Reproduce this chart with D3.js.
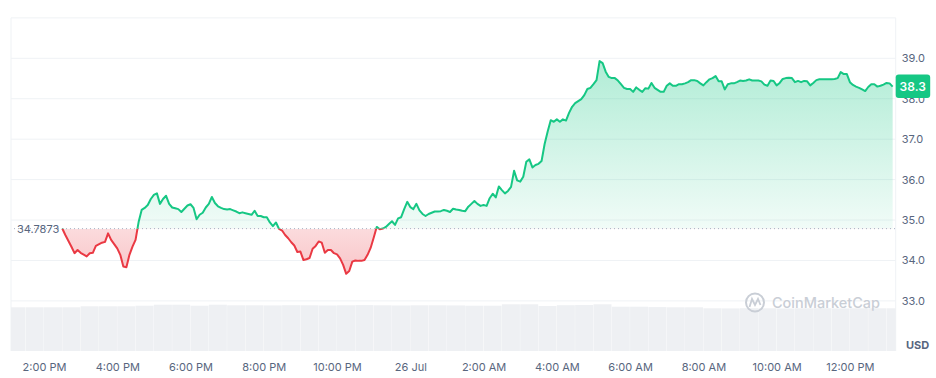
<!DOCTYPE html>
<html>
<head>
<meta charset="utf-8">
<script src="https://d3js.org/d3.v7.min.js"></script>
<style>
  body { margin: 0; background: #fff; font-family: Inter, "Noto Sans", sans-serif; }
</style>
</head>
<body>
<div id="chart"></div>
<script>

// price series: minutes after 2:00 PM (25 Jul) and price in USD
var minutes = [30,35,45,50,55,60,70,75,80,85,95,100,105,110,120,125,130,135,140,145,
  150,155,160,165,170,175,180,185,190,195,200,205,210,215,220,225,235,240,245,250,
  255,260,265,270,275,280,285,290,295,300,305,310,315,320,325,330,335,340,345,350,
  355,360,365,370,375,380,385,390,395,400,405,410,415,420,425,430,435,440,445,450,
  455,460,465,470,475,480,485,490,495,500,505,510,515,520,525,530,535,540,545,550,
  555,560,565,570,575,580,585,590,595,600,605,610,615,620,625,630,635,640,645,650,
  655,660,665,670,675,680,685,690,695,700,705,710,715,720,725,730,735,740,745,750,
  755,760,765,770,775,780,785,790,795,800,805,810,815,820,825,830,835,840,845,850,
  855,860,865,870,875,880,885,890,895,900,905,910,915,920,925,930,935,940,945,950,
  955,960,965,970,975,980,985,990,995,1000,1005,1010,1015,1020,1025,1030,1035,1040,1045,1050,
  1055,1060,1065,1070,1075,1080,1085,1090,1095,1100,1105,1110,1115,1120,1125,1130,1135,1140,1145,1150,
  1155,1160,1165,1170,1175,1180,1185,1190,1195,1200,1205,1210,1215,1220,1225,1230,1235,1240,1245,1250,
  1255,1260,1265,1270,1275,1280,1285,1290,1295,1300,1305,1310,1315,1320,1325,1330,1335,1340,1345,1350,
  1355,1360,1365,1370,1375,1380,1385,1390];

var prices = [34.79,34.63,34.34,34.18,34.26,34.19,34.10,34.18,34.19,34.36,34.44,34.46,34.67,34.51,34.30,34.14,33.85,33.83,34.14,34.34,
  34.51,34.95,35.25,35.30,35.37,35.52,35.62,35.66,35.40,35.52,35.60,35.40,35.31,35.29,35.27,35.20,35.36,35.39,35.30,35.02,
  35.13,35.18,35.31,35.40,35.57,35.42,35.34,35.30,35.27,35.26,35.27,35.24,35.21,35.17,35.19,35.17,35.15,35.13,35.23,35.10,
  35.10,35.07,35.07,34.94,34.85,34.94,34.78,34.74,34.63,34.55,34.45,34.37,34.21,34.22,34.01,34.03,34.06,34.29,34.36,34.47,
  34.44,34.19,34.26,34.26,34.18,34.15,34.05,33.89,33.67,33.74,33.97,34.00,33.99,33.99,34.01,34.14,34.31,34.56,34.83,34.77,
  34.79,34.83,34.90,34.97,34.88,35.04,35.07,35.27,35.45,35.32,35.27,35.40,35.24,35.15,35.10,35.15,35.18,35.21,35.21,35.22,
  35.25,35.23,35.20,35.28,35.26,35.25,35.23,35.22,35.33,35.40,35.47,35.40,35.35,35.37,35.35,35.54,35.65,35.56,35.83,35.74,
  35.66,35.72,35.82,36.22,35.98,35.95,36.07,36.44,36.50,36.30,36.36,36.39,36.46,36.88,37.19,37.47,37.43,37.49,37.43,37.49,
  37.46,37.65,37.80,37.89,37.94,37.99,38.09,38.24,38.27,38.36,38.46,38.93,38.88,38.67,38.54,38.51,38.51,38.45,38.36,38.27,
  38.24,38.24,38.17,38.28,38.22,38.17,38.26,38.25,38.39,38.27,38.22,38.17,38.17,38.32,38.38,38.32,38.32,38.36,38.36,38.38,
  38.41,38.46,38.46,38.44,38.38,38.33,38.41,38.48,38.51,38.56,38.43,38.43,38.23,38.36,38.38,38.38,38.41,38.45,38.44,38.45,
  38.48,38.45,38.45,38.45,38.43,38.35,38.32,38.45,38.44,38.33,38.39,38.49,38.51,38.52,38.51,38.41,38.44,38.41,38.44,38.43,
  38.33,38.39,38.46,38.48,38.48,38.48,38.48,38.48,38.49,38.51,38.66,38.61,38.61,38.41,38.34,38.30,38.27,38.23,38.19,38.29,
  38.36,38.36,38.30,38.32,38.35,38.39,38.38,38.30];

// volume, one bar per 30 minutes starting 1:00 PM
var volumeStart = -60;
var volumes = [87.4,87.4,87.4,87.4,89.4,89.4,89.4,90.6,92.6,92.6,90.6,92.6,91.4,91.4,91.2,91.6,91.4,91.0,91.4,91.8,
  91.4,91.0,91.4,91.4,91.2,90.6,90.6,93.4,93.4,90.0,91.6,92.0,93.4,88.6,88.6,87.8,87.4,87.4,85.4,85.2,
  85.6,85.4,85.0,85.4,85.6,85.2,85.4,85.4,85.4];

var baseline = 34.7873;
var lastPrice = "38.3";
var yTicks = [33, 34, 35, 36, 37, 38, 39, 40];
var xTickMinutes = [0, 120, 240, 360, 480, 600, 720, 840, 960, 1080, 1200, 1320];
var xTickLabels = ["2:00 PM","4:00 PM","6:00 PM","8:00 PM","10:00 PM","26 Jul","2:00 AM","4:00 AM","6:00 AM","8:00 AM","10:00 AM","12:00 PM"];

var W = 936, H = 378;
var left = 11, right = 895.7, bottom = 351;
var green = "#16c784", red = "#ea3943";

var t0 = new Date(2023, 6, 25, 14, 0);
function toTime(m) { return new Date(t0.getTime() + m * 60000); }

var data = minutes.map(function(m, i) { return {t: toTime(m), v: prices[i]}; });

var svg = d3.select("#chart").append("svg")
  .attr("width", W).attr("height", H);

var x = d3.scaleTime()
  .domain([toTime(-54), toTime(1395)])
  .range([left, right]);

var y = d3.scaleLinear()
  .domain([33, 39])
  .range([300.9, 58.3]);

var yv = d3.scaleLinear().domain([0, 100]).range([bottom, 301]);

var defs = svg.append("defs");
var yb = y(baseline);

var gG = defs.append("linearGradient").attr("id", "gGreen")
  .attr("gradientUnits", "userSpaceOnUse").attr("x1", 0).attr("x2", 0)
  .attr("y1", y(39)).attr("y2", yb);
gG.append("stop").attr("offset", 0).attr("stop-color", green).attr("stop-opacity", 0.34);
gG.append("stop").attr("offset", 1).attr("stop-color", green).attr("stop-opacity", 0.06);

var gR = defs.append("linearGradient").attr("id", "gRed")
  .attr("gradientUnits", "userSpaceOnUse").attr("x1", 0).attr("x2", 0)
  .attr("y1", yb).attr("y2", y(33.6));
gR.append("stop").attr("offset", 0).attr("stop-color", red).attr("stop-opacity", 0.18);
gR.append("stop").attr("offset", 1).attr("stop-color", red).attr("stop-opacity", 0.3);

defs.append("clipPath").attr("id", "above").append("rect")
  .attr("x", 0).attr("y", 0).attr("width", W).attr("height", yb);
defs.append("clipPath").attr("id", "below").append("rect")
  .attr("x", 0).attr("y", yb).attr("width", W).attr("height", H - yb);
defs.append("clipPath").attr("id", "plot").append("rect")
  .attr("x", left).attr("y", 0).attr("width", right - left).attr("height", H);

// grid lines
svg.append("g").selectAll("line")
  .data(yTicks).enter().append("line")
  .attr("x1", left).attr("x2", right)
  .attr("y1", function(d) { return y(d); }).attr("y2", function(d) { return y(d); })
  .attr("stroke", "#eff2f5").attr("stroke-width", 1);

// side borders
svg.append("line").attr("x1", left).attr("x2", left).attr("y1", y(40)).attr("y2", bottom)
  .attr("stroke", "#eff2f5");
svg.append("line").attr("x1", right).attr("x2", right).attr("y1", y(40)).attr("y2", bottom)
  .attr("stroke", "#eff2f5");

// volume bars
svg.append("g").attr("clip-path", "url(#plot)").selectAll("rect")
  .data(volumes).enter().append("rect")
  .attr("x", function(d, i) { return x(toTime(volumeStart + i * 30)); })
  .attr("width", function(d, i) { return x(toTime(volumeStart + (i + 1) * 30)) - x(toTime(volumeStart + i * 30)) - 0.3; })
  .attr("y", function(d) { return yv(d); })
  .attr("height", function(d) { return bottom - yv(d); })
  .attr("fill", "#eef0f3");

// watermark
var wm = svg.append("g").attr("fill", "none").attr("stroke", "#c9ced6");
wm.append("circle").attr("cx", 755).attr("cy", 302.5).attr("r", 9).attr("stroke-width", 2);
wm.append("path").attr("d", "M749.5,307 L752,299 L755,305 L758,299 L760.5,305").attr("stroke-width", 1.8);
svg.append("text").attr("x", 772).attr("y", 308)
  .attr("font-size", 14.5).attr("font-weight", 500).attr("fill", "#c9ced6")
  .attr("textLength", 108).attr("lengthAdjust", "spacingAndGlyphs")
  .text("CoinMarketCap");

// areas
var area = d3.area()
  .x(function(d) { return x(d.t); })
  .y0(yb)
  .y1(function(d) { return y(d.v); });

var line = d3.line()
  .x(function(d) { return x(d.t); })
  .y(function(d) { return y(d.v); });

svg.append("path").datum(data).attr("d", area)
  .attr("fill", "url(#gGreen)").attr("clip-path", "url(#above)");
svg.append("path").datum(data).attr("d", area)
  .attr("fill", "url(#gRed)").attr("clip-path", "url(#below)");

// baseline
svg.append("line").attr("x1", 14).attr("x2", right).attr("y1", yb).attr("y2", yb)
  .attr("stroke", "#a6b0c3").attr("stroke-width", 1).attr("stroke-dasharray", "1,3");
svg.append("text").attr("x", 17).attr("y", yb + 4)
  .attr("font-size", 11).attr("fill", "#58667e").text(baseline);

svg.append("path").datum(data).attr("d", line)
  .attr("fill", "none").attr("stroke", green).attr("stroke-width", 2)
  .attr("stroke-linejoin", "round").attr("clip-path", "url(#above)");
svg.append("path").datum(data).attr("d", line)
  .attr("fill", "none").attr("stroke", red).attr("stroke-width", 2)
  .attr("stroke-linejoin", "round").attr("clip-path", "url(#below)");

// y axis
var yAxis = svg.append("g").attr("transform", "translate(" + right + ",0)")
  .call(d3.axisRight(y).tickValues(yTicks.slice(0, 7)).tickSize(0).tickPadding(6).tickFormat(d3.format(".1f")));
yAxis.select(".domain").remove();
yAxis.selectAll("text").attr("font-size", 11).attr("font-family", "Inter, sans-serif").attr("fill", "#58667e");

// x axis
var xAxis = svg.append("g").attr("transform", "translate(0," + bottom + ")")
  .call(d3.axisBottom(x).tickValues(xTickMinutes.map(toTime)).tickSize(0).tickPadding(12)
    .tickFormat(function(d, i) { return xTickLabels[i]; }));
xAxis.select(".domain").remove();
xAxis.selectAll("text").attr("font-size", 11).attr("font-family", "Inter, sans-serif").attr("fill", "#58667e");

svg.append("text").attr("x", 906).attr("y", 349)
  .attr("font-size", 11).attr("font-weight", 700).attr("fill", "#58667e").text("USD");

// last price label
var yl = y(+lastPrice);
svg.append("rect").attr("x", right).attr("y", yl - 12).attr("width", 34.5).attr("height", 23.5)
  .attr("rx", 3).attr("fill", green);
svg.append("text").attr("x", right + 17).attr("y", yl + 4)
  .attr("text-anchor", "middle").attr("font-size", 12).attr("font-weight", 600)
  .attr("fill", "#fff").text(lastPrice);

</script>
</body>
</html>
